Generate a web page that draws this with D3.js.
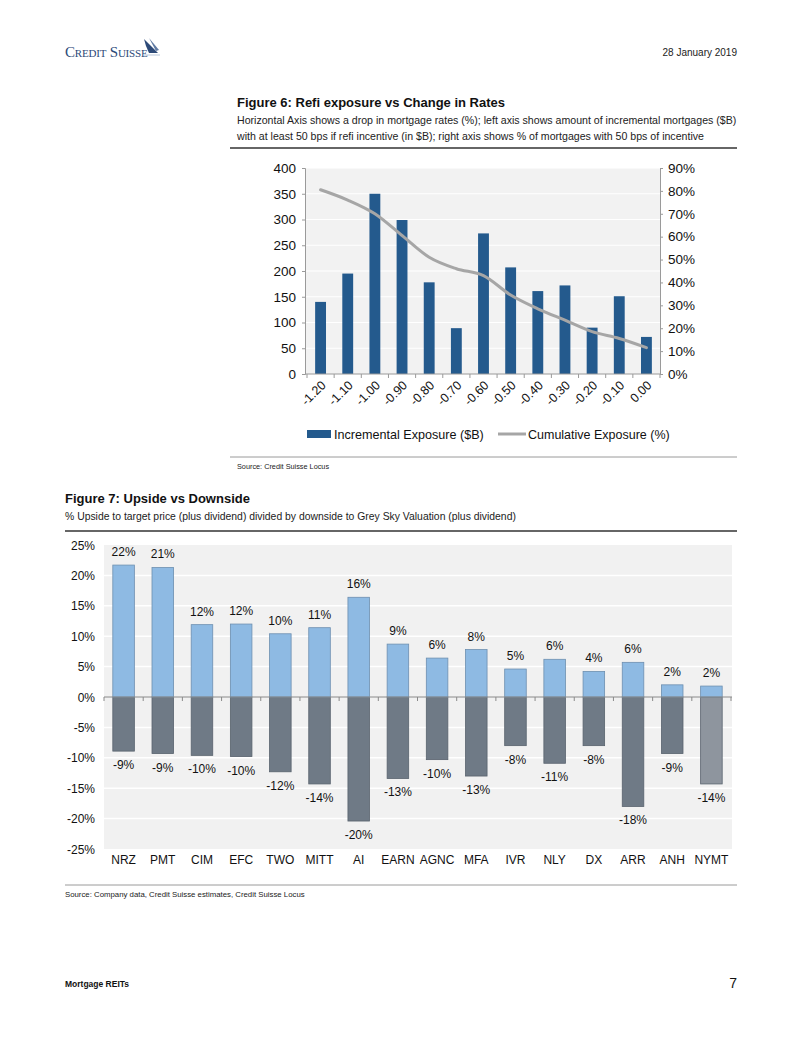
<!DOCTYPE html>
<html><head><meta charset="utf-8">
<script src="https://cdn.jsdelivr.net/npm/d3@7"></script>
<style>
html,body{margin:0;padding:0;background:#fff;}
svg{display:block;font-family:"Liberation Sans",Arial,Helvetica,sans-serif;}
</style></head>
<body>
<svg id="page" width="802" height="1037"></svg>
<script>
// ---------- Figure 6 data ----------
const rateLabels = ["-1.20","-1.10","-1.00","-0.90","-0.80","-0.70","-0.60","-0.50","-0.40","-0.30","-0.20","-0.10","0.00"];
const incrementalExposure = [140,195,350,299,178,89,273,207,161,172,90,151,72];
const cumulativeExposure = [80.5,76,70,60.5,51,46,43,34.5,28.5,23.5,18.5,15.5,11.5];
const leftTicks = [0,50,100,150,200,250,300,350,400];
const rightTicks = [0,10,20,30,40,50,60,70,80,90];

// ---------- Figure 7 data ----------
const tickers = ["NRZ","PMT","CIM","EFC","TWO","MITT","AI","EARN","AGNC","MFA","IVR","NLY","DX","ARR","ANH","NYMT"];
const upside = [21.7,21.3,11.9,12.0,10.4,11.4,16.4,8.7,6.4,7.8,4.6,6.2,4.2,5.7,2.0,1.8];
const downside = [-8.9,-9.3,-9.6,-9.8,-12.3,-14.3,-20.4,-13.4,-10.3,-13.0,-8.0,-10.9,-8.0,-18.0,-9.3,-14.3];
const pctTicks = [-25,-20,-15,-10,-5,0,5,10,15,20,25];

const svg = d3.select("#page");

// ---------- Header ----------
const logo = svg.append("g");
logo.append("text").attr("x",65).attr("y",57)
  .attr("font-family","'Liberation Serif','DejaVu Serif',serif")
  .attr("font-size",15).attr("fill","#2d4a78").attr("font-variant","small-caps")
  .attr("letter-spacing",-0.2)
  .text("Credit Suisse");
logo.append("path").attr("d","M144,39 L158,53 L149,53 L146,46 Z").attr("fill","#2d4a78");
logo.append("path").attr("d","M149,38 L159,50 L156,51 Z").attr("fill","#5f7aa3");
logo.append("path").attr("d","M144,55 L160,55").attr("stroke","#b8c6d9").attr("stroke-width",1);
svg.append("text").attr("x",737).attr("y",56).attr("text-anchor","end")
  .attr("font-size",10).attr("fill","#222").text("28 January 2019");

// ---------- Figure 6 ----------
svg.append("text").attr("x",237).attr("y",107).attr("font-size",13).attr("font-weight","bold").attr("fill","#111")
  .text("Figure 6: Refi exposure vs Change in Rates");
svg.append("text").attr("x",237).attr("y",124).attr("font-size",10.6).attr("fill","#222")
  .text("Horizontal Axis shows a drop in mortgage rates (%); left axis shows amount of incremental mortgages ($B)");
svg.append("text").attr("x",237).attr("y",140).attr("font-size",10.6).attr("fill","#222")
  .text("with at least 50 bps if refi incentive (in $B); right axis shows % of mortgages with 50 bps of incentive");
svg.append("line").attr("x1",230).attr("x2",737).attr("y1",148).attr("y2",148).attr("stroke","#333").attr("stroke-width",1.5);

const f6 = {l:305, r:660, t:168, b:374};
const x6 = d3.scaleBand().domain(rateLabels).range([f6.l+2, f6.r]).paddingInner(0.6).paddingOuter(0.3);
const yL = d3.scaleLinear().domain([0,400]).range([f6.b, f6.t]);
const yR = d3.scaleLinear().domain([0,90]).range([f6.b, f6.t]);

svg.append("rect").attr("x",f6.l).attr("y",f6.t).attr("width",f6.r-f6.l).attr("height",f6.b-f6.t).attr("fill","#f2f2f2");
svg.append("g").selectAll("line").data(leftTicks.slice(1)).join("line")
  .attr("x1",f6.l).attr("x2",f6.r).attr("y1",d=>yL(d)).attr("y2",d=>yL(d))
  .attr("stroke","#ffffff").attr("stroke-width",1.2);

svg.append("g").selectAll("rect").data(incrementalExposure).join("rect")
  .attr("x",(d,i)=>x6(rateLabels[i])).attr("width",x6.bandwidth())
  .attr("y",d=>yL(d)).attr("height",d=>yL(0)-yL(d)).attr("fill","#245a8d");

const line6 = d3.line().x((d,i)=>x6(rateLabels[i])+x6.bandwidth()/2).y(d=>yR(d)).curve(d3.curveMonotoneX);
svg.append("path").datum(cumulativeExposure).attr("d",line6).attr("fill","none")
  .attr("stroke","#a6a6a6").attr("stroke-width",3).attr("stroke-linecap","round");

// axes
const axL = svg.append("g").attr("transform",`translate(${f6.l},0)`).call(d3.axisLeft(yL).tickValues(leftTicks).tickSize(3).tickPadding(6));
const axR = svg.append("g").attr("transform",`translate(${f6.r},0)`).call(d3.axisRight(yR).tickValues(rightTicks).tickSize(3).tickPadding(5).tickFormat(d=>d+"%"));
[axL,axR].forEach(a=>{a.select(".domain").attr("stroke","#9a9a9a");a.selectAll(".tick line").attr("stroke","#9a9a9a");
  a.selectAll("text").attr("font-size",13.5).attr("fill","#111").attr("font-family","'Liberation Sans',Arial,sans-serif");});
svg.append("line").attr("x1",f6.l).attr("x2",f6.r).attr("y1",f6.b).attr("y2",f6.b).attr("stroke","#9a9a9a");
const step6 = x6.step();
svg.append("g").selectAll("line").data(rateLabels).join("line")
  .attr("x1",d=>x6(d)+x6.bandwidth()/2+step6/2).attr("x2",d=>x6(d)+x6.bandwidth()/2+step6/2)
  .attr("y1",f6.b).attr("y2",f6.b+4).attr("stroke","#9a9a9a");
svg.append("line").attr("x1",x6(rateLabels[0])+x6.bandwidth()/2-step6/2).attr("x2",x6(rateLabels[0])+x6.bandwidth()/2-step6/2)
  .attr("y1",f6.b).attr("y2",f6.b+4).attr("stroke","#9a9a9a");
svg.append("g").selectAll("text").data(rateLabels).join("text")
  .attr("transform",d=>`translate(${x6(d)+x6.bandwidth()/2+6},${f6.b+12}) rotate(-45)`)
  .attr("text-anchor","end").attr("font-size",12.5).attr("fill","#111").text(d=>d);

// legend
svg.append("rect").attr("x",307).attr("y",430).attr("width",24).attr("height",8).attr("fill","#245a8d");
svg.append("text").attr("x",334).attr("y",439).attr("font-size",12.6).attr("fill","#111").text("Incremental Exposure ($B)");
svg.append("line").attr("x1",498).attr("x2",526).attr("y1",434).attr("y2",434).attr("stroke","#a6a6a6").attr("stroke-width",3);
svg.append("text").attr("x",528).attr("y",439).attr("font-size",12.5).attr("fill","#111").text("Cumulative Exposure (%)");

svg.append("line").attr("x1",230).attr("x2",737).attr("y1",457).attr("y2",457).attr("stroke","#9a9a9a").attr("stroke-width",1);
svg.append("text").attr("x",237).attr("y",469).attr("font-size",7.3).attr("fill","#222").text("Source: Credit Suisse Locus");

// ---------- Figure 7 ----------
svg.append("text").attr("x",65).attr("y",503).attr("font-size",13).attr("font-weight","bold").attr("fill","#111")
  .text("Figure 7: Upside vs Downside");
svg.append("text").attr("x",65).attr("y",520).attr("font-size",10.4).attr("fill","#222")
  .text("% Upside to target price (plus dividend) divided by downside to Grey Sky Valuation (plus dividend)");
svg.append("line").attr("x1",65).attr("x2",737).attr("y1",531).attr("y2",531).attr("stroke","#333").attr("stroke-width",1.5);

const f7 = {l:104, r:732, t:545, b:849};
const x7 = d3.scaleBand().domain(tickers).range([f7.l, f7.r-1]).paddingInner(0.45).paddingOuter(0.225);
const y7 = d3.scaleLinear().domain([-25,25]).range([f7.b, f7.t]);

svg.append("rect").attr("x",f7.l).attr("y",f7.t).attr("width",f7.r-f7.l).attr("height",f7.b-f7.t).attr("fill","#f1f1f1");
svg.append("g").selectAll("line").data(pctTicks.filter(d=>d!==0 && d!==-25 && d!==25)).join("line")
  .attr("x1",f7.l).attr("x2",f7.r).attr("y1",d=>y7(d)).attr("y2",d=>y7(d)).attr("stroke","#ffffff").attr("stroke-width",1.5);

svg.append("g").selectAll("text").data(pctTicks).join("text")
  .attr("x",95).attr("y",d=>y7(d)+4.5).attr("text-anchor","end").attr("font-size",12).attr("fill","#111").text(d=>d+"%");

// bars
const downColor = tickers.map(t=> t==="NYMT" ? "#8e959e" : "#6f7a86");
svg.append("g").selectAll("rect").data(downside).join("rect")
  .attr("x",(d,i)=>x7(tickers[i])).attr("width",x7.bandwidth())
  .attr("y",y7(0)).attr("height",d=>y7(d)-y7(0))
  .attr("fill",(d,i)=>downColor[i]).attr("stroke","#59636e").attr("stroke-width",0.8);
svg.append("g").selectAll("rect").data(upside).join("rect")
  .attr("x",(d,i)=>x7(tickers[i])).attr("width",x7.bandwidth())
  .attr("y",d=>y7(d)).attr("height",d=>y7(0)-y7(d))
  .attr("fill","#8ebae3").attr("stroke","#6d8fb0").attr("stroke-width",0.8);

// zero axis
svg.append("line").attr("x1",f7.l).attr("x2",f7.r).attr("y1",y7(0)).attr("y2",y7(0)).attr("stroke","#8a8a8a").attr("stroke-width",1);
const step7 = x7.step();
svg.append("g").selectAll("line").data(d3.range(tickers.length+1)).join("line")
  .attr("x1",i=>x7(tickers[0])+x7.bandwidth()/2-step7/2+i*step7)
  .attr("x2",i=>x7(tickers[0])+x7.bandwidth()/2-step7/2+i*step7)
  .attr("y1",y7(0)).attr("y2",y7(0)+4).attr("stroke","#8a8a8a");

// value labels
svg.append("g").selectAll("text").data(upside).join("text")
  .attr("x",(d,i)=>x7(tickers[i])+x7.bandwidth()/2).attr("y",d=>y7(d)-9)
  .attr("text-anchor","middle").attr("font-size",12).attr("fill","#111").text(d=>Math.round(d)+"%");
svg.append("g").selectAll("text").data(downside).join("text")
  .attr("x",(d,i)=>x7(tickers[i])+x7.bandwidth()/2).attr("y",d=>y7(d)+18)
  .attr("text-anchor","middle").attr("font-size",12).attr("fill","#111").text(d=>Math.round(d)+"%");

// category labels
svg.append("g").selectAll("text").data(tickers).join("text")
  .attr("x",d=>x7(d)+x7.bandwidth()/2).attr("y",864)
  .attr("text-anchor","middle").attr("font-size",12).attr("fill","#111").text(d=>d);

svg.append("line").attr("x1",65).attr("x2",737).attr("y1",885).attr("y2",885).attr("stroke","#9a9a9a").attr("stroke-width",1);
svg.append("text").attr("x",65).attr("y",897).attr("font-size",7.8).attr("fill","#222")
  .text("Source: Company data, Credit Suisse estimates, Credit Suisse Locus");

// ---------- Footer ----------
svg.append("text").attr("x",65).attr("y",987).attr("font-size",8.5).attr("font-weight","bold").attr("fill","#111").text("Mortgage REITs");
svg.append("text").attr("x",737).attr("y",988).attr("text-anchor","end").attr("font-size",14).attr("fill","#111").text("7");
</script>
</body></html>
